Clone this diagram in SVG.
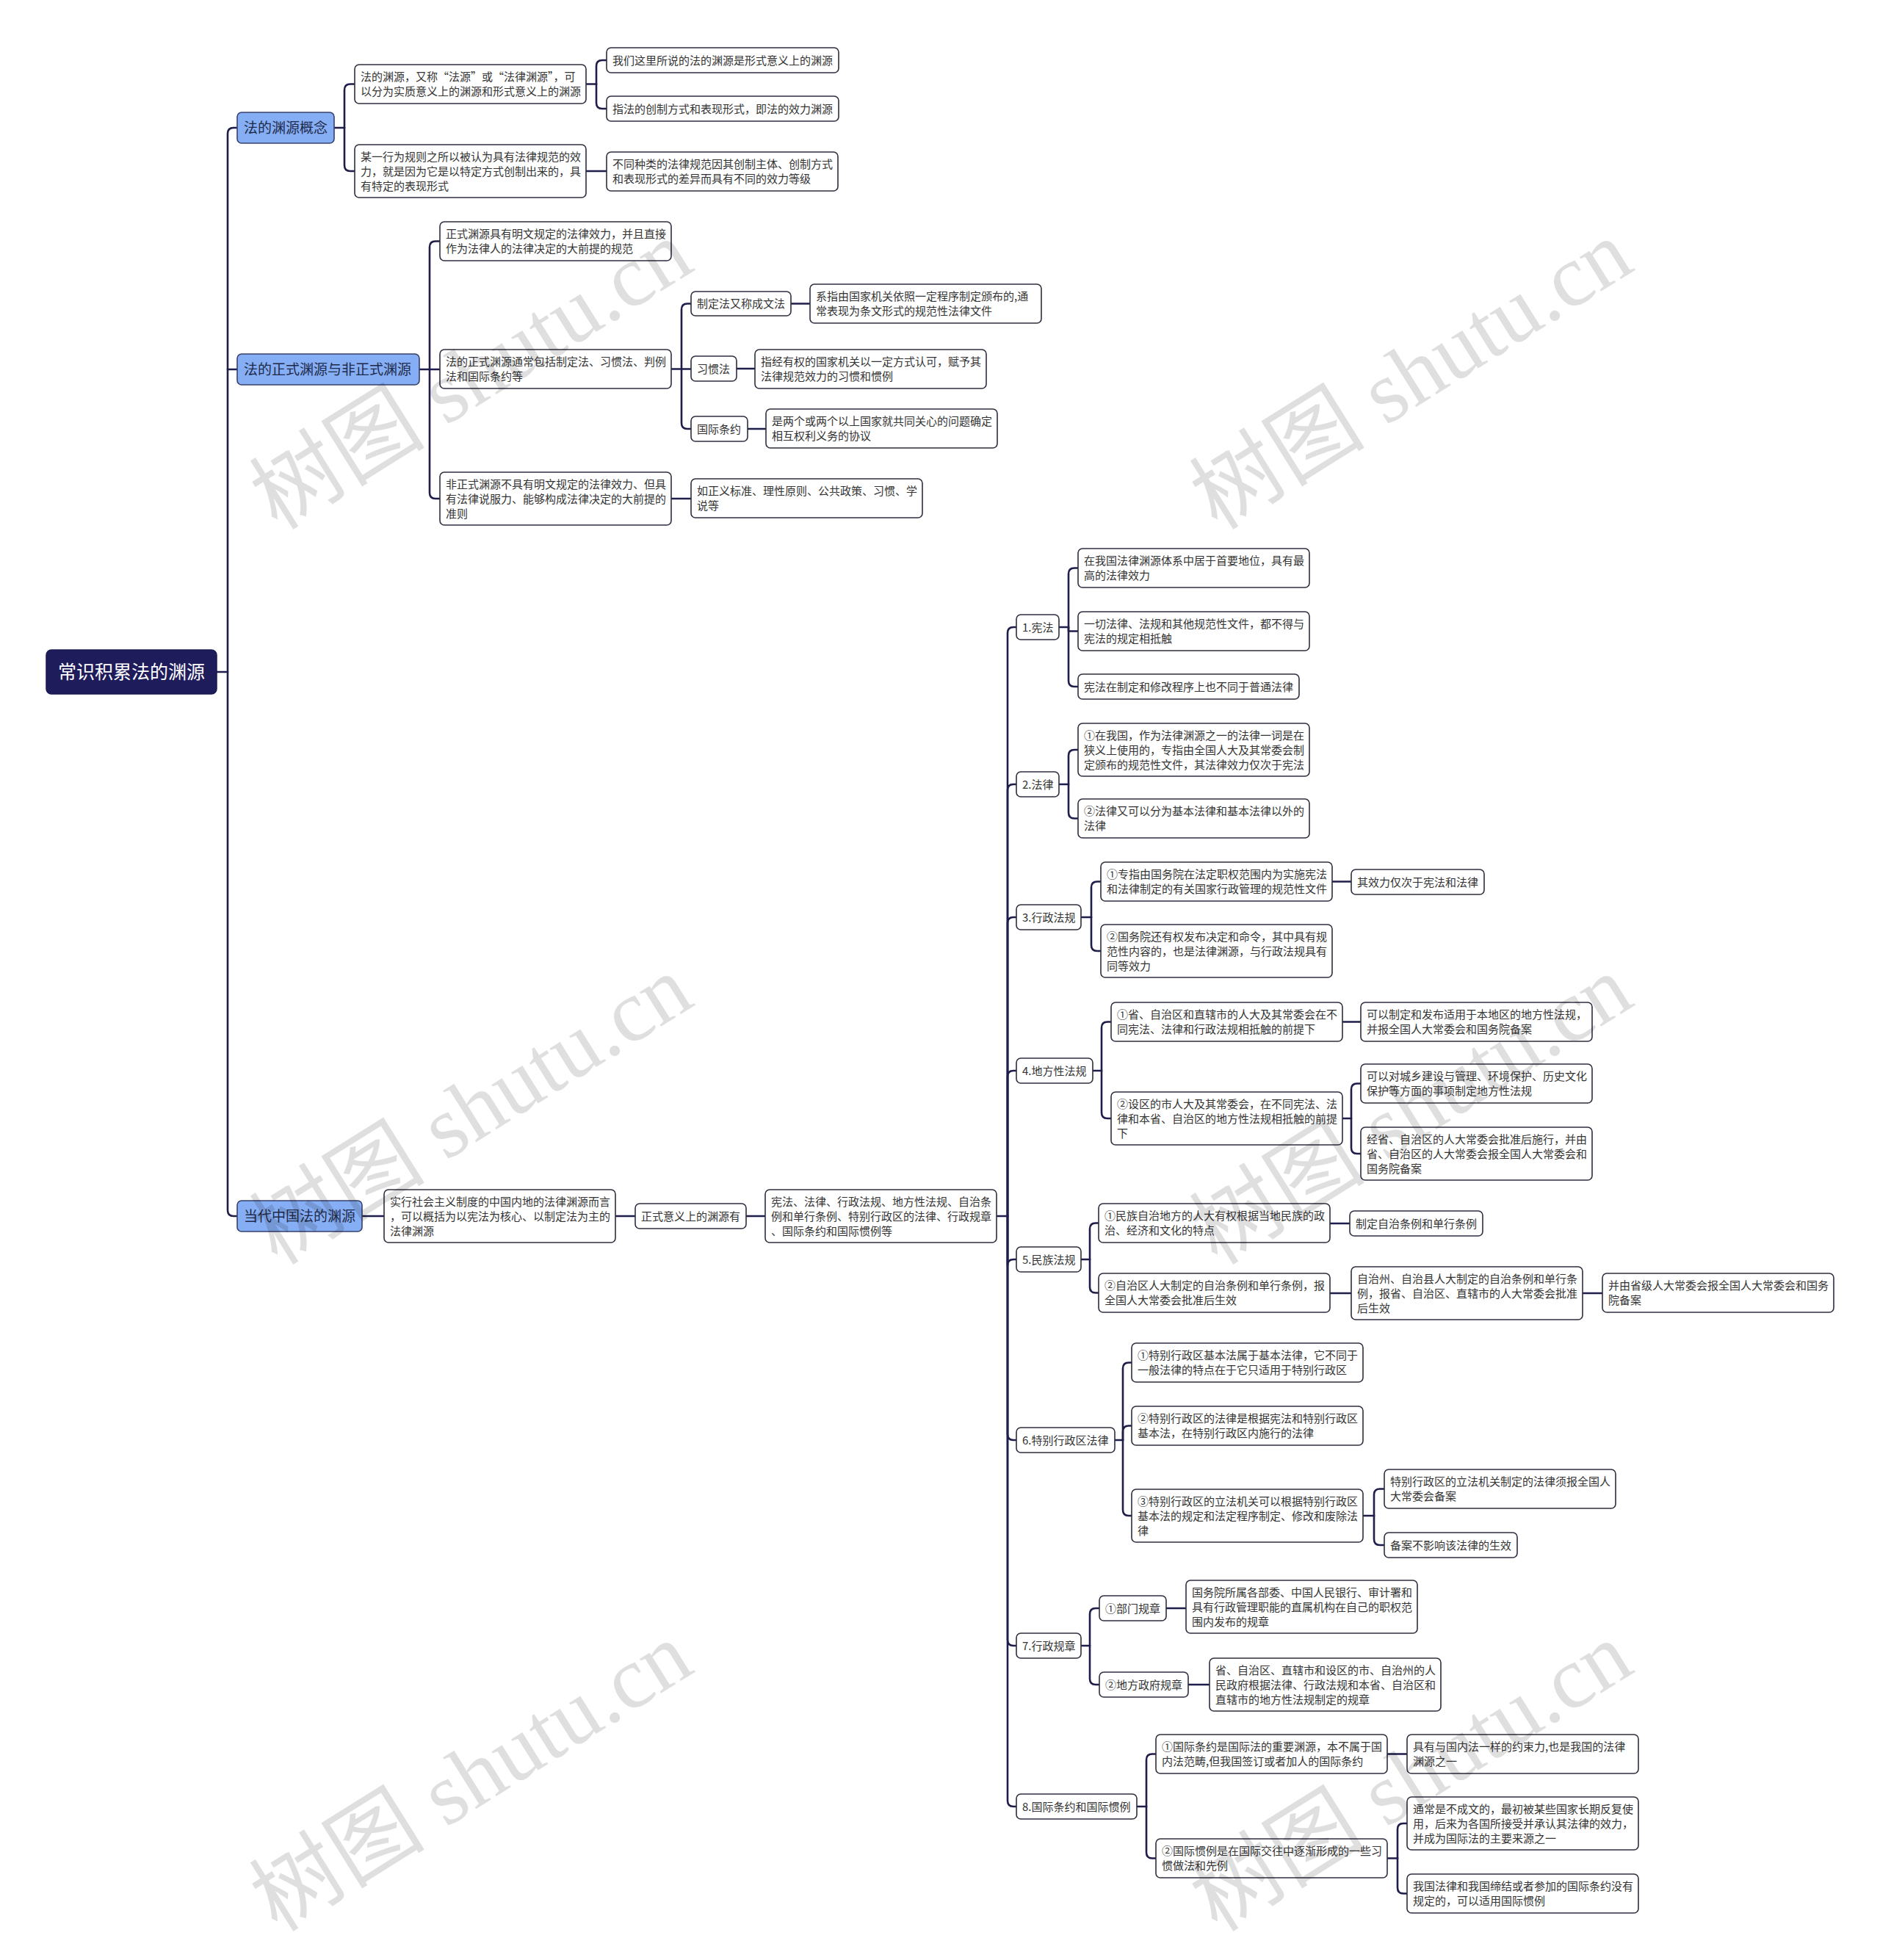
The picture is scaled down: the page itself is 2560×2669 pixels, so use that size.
<svg xmlns="http://www.w3.org/2000/svg" width="2560" height="2669" viewBox="0 0 2560 2669">
<style>
.nb{fill:#fff;stroke:#2f2f3f;stroke-width:1.6}
.l1{fill:#86aef4;stroke:#37406b;stroke-width:1.6}
.rt{fill:#1f1c5c;stroke:#1a1850;stroke-width:1.5}
text{font-family:"Noto Sans CJK SC","Noto Sans",sans-serif;font-size:15px;fill:#333}
.t1{font-size:19px;fill:#1e2a4a}
.t0{font-size:25px;fill:#fff}
.c path{fill:none;stroke:#1f1e4b;stroke-width:2.6;stroke-linecap:round;stroke-linejoin:round}
.wm{font-family:"Liberation Serif","Noto Sans CJK SC",serif;font-size:120px;fill:#000;opacity:0.12}
</style>
<rect width="2560" height="2669" fill="#fff"/>
<g class="c" id="connectors">
<path d="M295 915H310"/>
<path d="M323 174H318Q310 174 310 182V1648Q310 1656 318 1656H323"/>
<path d="M310 503H323"/>
<path d="M455 174H469"/>
<path d="M469 174V122.5Q469 114.5 477 114.5H483"/>
<path d="M469 174V225Q469 233 477 233H483"/>
<path d="M798 114.5H812"/>
<path d="M812 114.5V90Q812 82 820 82H826"/>
<path d="M812 114.5V140Q812 148 820 148H826"/>
<path d="M798 233H826"/>
<path d="M571 503H585"/>
<path d="M585 503V336.5Q585 328.5 593 328.5H599"/>
<path d="M585 503H599"/>
<path d="M585 503V671Q585 679 593 679H599"/>
<path d="M914 502.5H941"/>
<path d="M928 502.5V421.5Q928 413.5 936 413.5H941"/>
<path d="M928 502.5V576Q928 584 936 584H941"/>
<path d="M1077 413.5H1103"/>
<path d="M1003 502H1028"/>
<path d="M1018 584H1043"/>
<path d="M914 679H941"/>
<path d="M493 1656H523"/>
<path d="M838 1656H865"/>
<path d="M1016 1656H1042"/>
<path d="M1357 1656H1372"/>
<path d="M1372 1656V862Q1372 854 1380 854H1384"/>
<path d="M1372 1656V1076Q1372 1068 1380 1068H1384"/>
<path d="M1372 1656V1257Q1372 1249 1380 1249H1384"/>
<path d="M1372 1656V1466Q1372 1458 1380 1458H1384"/>
<path d="M1372 1656V1723Q1372 1715 1380 1715H1384"/>
<path d="M1372 1656V1953Q1372 1961 1380 1961H1384"/>
<path d="M1372 1656V2233Q1372 2241 1380 2241H1384"/>
<path d="M1372 1656V2452Q1372 2460 1380 2460H1384"/>
<path d="M1442 854H1455"/>
<path d="M1455 854V781.5Q1455 773.5 1463 773.5H1468"/>
<path d="M1455 854V859.5H1468"/>
<path d="M1455 854V927Q1455 935 1463 935H1468"/>
<path d="M1442 1068H1455"/>
<path d="M1455 1068V1029Q1455 1021 1463 1021H1468"/>
<path d="M1455 1068V1106.5Q1455 1114.5 1463 1114.5H1468"/>
<path d="M1472 1249H1486"/>
<path d="M1486 1249V1208.5Q1486 1200.5 1494 1200.5H1499"/>
<path d="M1486 1249V1287Q1486 1295 1494 1295H1499"/>
<path d="M1814 1200.5H1840"/>
<path d="M1488 1458H1500"/>
<path d="M1500 1458V1399.5Q1500 1391.5 1508 1391.5H1513"/>
<path d="M1500 1458V1515Q1500 1523 1508 1523H1513"/>
<path d="M1828 1391.5H1853"/>
<path d="M1828 1523H1840"/>
<path d="M1840 1523V1483.5Q1840 1475.5 1848 1475.5H1853"/>
<path d="M1840 1523V1563Q1840 1571 1848 1571H1853"/>
<path d="M1472 1715H1484"/>
<path d="M1484 1715V1673.5Q1484 1665.5 1492 1665.5H1496"/>
<path d="M1484 1715V1752.5Q1484 1760.5 1492 1760.5H1496"/>
<path d="M1811 1666H1838"/>
<path d="M1811 1761H1840"/>
<path d="M2155 1761H2182"/>
<path d="M1518 1961H1529"/>
<path d="M1529 1961V1863.5Q1529 1855.5 1537 1855.5H1541"/>
<path d="M1529 1961V1949.5Q1529 1941.5 1537 1941.5H1541"/>
<path d="M1529 1961V2056Q1529 2064 1537 2064H1541"/>
<path d="M1856 2064H1871"/>
<path d="M1871 2064V2035.5Q1871 2027.5 1879 2027.5H1885"/>
<path d="M1871 2064V2096Q1871 2104 1879 2104H1885"/>
<path d="M1472 2241H1484"/>
<path d="M1484 2241V2198Q1484 2190 1492 2190H1497"/>
<path d="M1484 2241V2286Q1484 2294 1492 2294H1497"/>
<path d="M1588 2190H1615"/>
<path d="M1618 2294H1647"/>
<path d="M1548 2460H1561"/>
<path d="M1561 2460V2396.5Q1561 2388.5 1569 2388.5H1574"/>
<path d="M1561 2460V2522.5Q1561 2530.5 1569 2530.5H1574"/>
<path d="M1889 2388.5H1916"/>
<path d="M1889 2530.5H1903"/>
<path d="M1903 2530.5V2491Q1903 2483 1911 2483H1916"/>
<path d="M1903 2530.5V2570.5Q1903 2578.5 1911 2578.5H1916"/>
</g>
<g id="root"><rect class="rt" x="63" y="885" width="232" height="60" rx="7"/><text class="t0" x="179" y="924" text-anchor="middle">常识积累法的渊源</text></g>
<g id="n-gainian"><rect class="l1" x="323" y="153" width="132" height="42" rx="6"/><text class="t1" x="332" y="181">法的渊源概念</text></g>
<g id="n-zhengshi"><rect class="l1" x="323" y="482" width="248" height="42" rx="6"/><text class="t1" x="332" y="510">法的正式渊源与非正式渊源</text></g>
<g id="n-dangdai"><rect class="l1" x="323" y="1635" width="170" height="42" rx="6"/><text class="t1" x="332" y="1663">当代中国法的渊源</text></g>
<g id="a1"><rect class="nb" x="483" y="88" width="315" height="53" rx="6"/><text><tspan x="491" y="110">法的渊源，又称“法源”或“法律渊源”，可</tspan><tspan x="491" y="130">以分为实质意义上的渊源和形式意义上的渊源</tspan></text></g>
<g id="a1a"><rect class="nb" x="826" y="65" width="316" height="34" rx="6"/><text x="834" y="87.5">我们这里所说的法的渊源是形式意义上的渊源</text></g>
<g id="a1b"><rect class="nb" x="826" y="131" width="316" height="34" rx="6"/><text x="834" y="153.5">指法的创制方式和表现形式，即法的效力渊源</text></g>
<g id="a2"><rect class="nb" x="483" y="197" width="315" height="72" rx="6"/><text><tspan x="491" y="218.5">某一行为规则之所以被认为具有法律规范的效</tspan><tspan x="491" y="238.5">力，就是因为它是以特定方式创制出来的，具</tspan><tspan x="491" y="258.5">有特定的表现形式</tspan></text></g>
<g id="a2a"><rect class="nb" x="826" y="207" width="315" height="53" rx="6"/><text><tspan x="834" y="229">不同种类的法律规范因其创制主体、创制方式</tspan><tspan x="834" y="249">和表现形式的差异而具有不同的效力等级</tspan></text></g>
<g id="b1"><rect class="nb" x="599" y="302" width="315" height="53" rx="6"/><text><tspan x="607" y="324">正式渊源具有明文规定的法律效力，并且直接</tspan><tspan x="607" y="344">作为法律人的法律决定的大前提的规范</tspan></text></g>
<g id="b2"><rect class="nb" x="599" y="476" width="315" height="53" rx="6"/><text><tspan x="607" y="498">法的正式渊源通常包括制定法、习惯法、判例</tspan><tspan x="607" y="518">法和国际条约等</tspan></text></g>
<g id="b2a"><rect class="nb" x="941" y="397" width="136" height="33" rx="6"/><text x="949" y="419">制定法又称成文法</text></g>
<g id="b2a1"><rect class="nb" x="1103" y="387" width="315" height="53" rx="6"/><text><tspan x="1111" y="409">系指由国家机关依照一定程序制定颁布的,通</tspan><tspan x="1111" y="429">常表现为条文形式的规范性法律文件</tspan></text></g>
<g id="b2b"><rect class="nb" x="941" y="485" width="62" height="34" rx="6"/><text x="949" y="507.5">习惯法</text></g>
<g id="b2b1"><rect class="nb" x="1028" y="476" width="315" height="53" rx="6"/><text><tspan x="1036" y="498">指经有权的国家机关以一定方式认可，赋予其</tspan><tspan x="1036" y="518">法律规范效力的习惯和惯例</tspan></text></g>
<g id="b2c"><rect class="nb" x="941" y="567" width="77" height="34" rx="6"/><text x="949" y="589.5">国际条约</text></g>
<g id="b2c1"><rect class="nb" x="1043" y="557" width="315" height="53" rx="6"/><text><tspan x="1051" y="579">是两个或两个以上国家就共同关心的问题确定</tspan><tspan x="1051" y="599">相互权利义务的协议</tspan></text></g>
<g id="b3"><rect class="nb" x="599" y="643" width="315" height="72" rx="6"/><text><tspan x="607" y="664.5">非正式渊源不具有明文规定的法律效力、但具</tspan><tspan x="607" y="684.5">有法律说服力、能够构成法律决定的大前提的</tspan><tspan x="607" y="704.5">准则</tspan></text></g>
<g id="b3a"><rect class="nb" x="941" y="652" width="315" height="53" rx="6"/><text><tspan x="949" y="674">如正义标准、理性原则、公共政策、习惯、学</tspan><tspan x="949" y="694">说等</tspan></text></g>
<g id="c1"><rect class="nb" x="523" y="1620" width="315" height="72" rx="6"/><text><tspan x="531" y="1641.5">实行社会主义制度的中国内地的法律渊源而言</tspan><tspan x="531" y="1661.5">，可以概括为以宪法为核心、以制定法为主的</tspan><tspan x="531" y="1681.5">法律渊源</tspan></text></g>
<g id="c2"><rect class="nb" x="865" y="1639" width="151" height="34" rx="6"/><text x="873" y="1661.5">正式意义上的渊源有</text></g>
<g id="c3"><rect class="nb" x="1042" y="1620" width="315" height="72" rx="6"/><text><tspan x="1050" y="1641.5">宪法、法律、行政法规、地方性法规、自治条</tspan><tspan x="1050" y="1661.5">例和单行条例、特别行政区的法律、行政规章</tspan><tspan x="1050" y="1681.5">、国际条约和国际惯例等</tspan></text></g>
<g id="d1"><rect class="nb" x="1384" y="837" width="58" height="34" rx="6"/><text x="1392" y="859.5">1.宪法</text></g>
<g id="d1a"><rect class="nb" x="1468" y="747" width="315" height="53" rx="6"/><text><tspan x="1476" y="769">在我国法律渊源体系中居于首要地位，具有最</tspan><tspan x="1476" y="789">高的法律效力</tspan></text></g>
<g id="d1b"><rect class="nb" x="1468" y="833" width="315" height="53" rx="6"/><text><tspan x="1476" y="855">一切法律、法规和其他规范性文件，都不得与</tspan><tspan x="1476" y="875">宪法的规定相抵触</tspan></text></g>
<g id="d1c"><rect class="nb" x="1468" y="918" width="301" height="34" rx="6"/><text x="1476" y="940.5">宪法在制定和修改程序上也不同于普通法律</text></g>
<g id="d2"><rect class="nb" x="1384" y="1051" width="58" height="34" rx="6"/><text x="1392" y="1073.5">2.法律</text></g>
<g id="d2a"><rect class="nb" x="1468" y="985" width="315" height="72" rx="6"/><text><tspan x="1476" y="1006.5">①在我国，作为法律渊源之一的法律一词是在</tspan><tspan x="1476" y="1026.5">狭义上使用的，专指由全国人大及其常委会制</tspan><tspan x="1476" y="1046.5">定颁布的规范性文件，其法律效力仅次于宪法</tspan></text></g>
<g id="d2b"><rect class="nb" x="1468" y="1088" width="315" height="53" rx="6"/><text><tspan x="1476" y="1110">②法律又可以分为基本法律和基本法律以外的</tspan><tspan x="1476" y="1130">法律</tspan></text></g>
<g id="d3"><rect class="nb" x="1384" y="1232" width="88" height="34" rx="6"/><text x="1392" y="1254.5">3.行政法规</text></g>
<g id="d3a"><rect class="nb" x="1499" y="1174" width="315" height="53" rx="6"/><text><tspan x="1507" y="1196">①专指由国务院在法定职权范围内为实施宪法</tspan><tspan x="1507" y="1216">和法律制定的有关国家行政管理的规范性文件</tspan></text></g>
<g id="d3a1"><rect class="nb" x="1840" y="1184" width="181" height="34" rx="6"/><text x="1848" y="1206.5">其效力仅次于宪法和法律</text></g>
<g id="d3b"><rect class="nb" x="1499" y="1259" width="315" height="72" rx="6"/><text><tspan x="1507" y="1280.5">②国务院还有权发布决定和命令，其中具有规</tspan><tspan x="1507" y="1300.5">范性内容的，也是法律渊源，与行政法规具有</tspan><tspan x="1507" y="1320.5">同等效力</tspan></text></g>
<g id="d4"><rect class="nb" x="1384" y="1441" width="104" height="34" rx="6"/><text x="1392" y="1463.5">4.地方性法规</text></g>
<g id="d4a"><rect class="nb" x="1513" y="1365" width="315" height="53" rx="6"/><text><tspan x="1521" y="1387">①省、自治区和直辖市的人大及其常委会在不</tspan><tspan x="1521" y="1407">同宪法、法律和行政法规相抵触的前提下</tspan></text></g>
<g id="d4a1"><rect class="nb" x="1853" y="1365" width="315" height="53" rx="6"/><text><tspan x="1861" y="1387">可以制定和发布适用于本地区的地方性法规，</tspan><tspan x="1861" y="1407">并报全国人大常委会和国务院备案</tspan></text></g>
<g id="d4b"><rect class="nb" x="1513" y="1487" width="315" height="72" rx="6"/><text><tspan x="1521" y="1508.5">②设区的市人大及其常委会，在不同宪法、法</tspan><tspan x="1521" y="1528.5">律和本省、自治区的地方性法规相抵触的前提</tspan><tspan x="1521" y="1548.5">下</tspan></text></g>
<g id="d4b1"><rect class="nb" x="1853" y="1449" width="315" height="53" rx="6"/><text><tspan x="1861" y="1471">可以对城乡建设与管理、环境保护、历史文化</tspan><tspan x="1861" y="1491">保护等方面的事项制定地方性法规</tspan></text></g>
<g id="d4b2"><rect class="nb" x="1853" y="1535" width="315" height="72" rx="6"/><text><tspan x="1861" y="1556.5">经省、自治区的人大常委会批准后施行，并由</tspan><tspan x="1861" y="1576.5">省、自治区的人大常委会报全国人大常委会和</tspan><tspan x="1861" y="1596.5">国务院备案</tspan></text></g>
<g id="d5"><rect class="nb" x="1384" y="1698" width="88" height="34" rx="6"/><text x="1392" y="1720.5">5.民族法规</text></g>
<g id="d5a"><rect class="nb" x="1496" y="1639" width="315" height="53" rx="6"/><text><tspan x="1504" y="1661">①民族自治地方的人大有权根据当地民族的政</tspan><tspan x="1504" y="1681">治、经济和文化的特点</tspan></text></g>
<g id="d5a1"><rect class="nb" x="1838" y="1649" width="181" height="34" rx="6"/><text x="1846" y="1671.5">制定自治条例和单行条例</text></g>
<g id="d5b"><rect class="nb" x="1496" y="1734" width="315" height="53" rx="6"/><text><tspan x="1504" y="1756">②自治区人大制定的自治条例和单行条例，报</tspan><tspan x="1504" y="1776">全国人大常委会批准后生效</tspan></text></g>
<g id="d5b1"><rect class="nb" x="1840" y="1725" width="315" height="72" rx="6"/><text><tspan x="1848" y="1746.5">自治州、自治县人大制定的自治条例和单行条</tspan><tspan x="1848" y="1766.5">例，报省、自治区、直辖市的人大常委会批准</tspan><tspan x="1848" y="1786.5">后生效</tspan></text></g>
<g id="d5b1a"><rect class="nb" x="2182" y="1734" width="315" height="53" rx="6"/><text><tspan x="2190" y="1756">并由省级人大常委会报全国人大常委会和国务</tspan><tspan x="2190" y="1776">院备案</tspan></text></g>
<g id="d6"><rect class="nb" x="1384" y="1944" width="134" height="34" rx="6"/><text x="1392" y="1966.5">6.特别行政区法律</text></g>
<g id="d6a"><rect class="nb" x="1541" y="1829" width="315" height="53" rx="6"/><text><tspan x="1549" y="1851">①特别行政区基本法属于基本法律，它不同于</tspan><tspan x="1549" y="1871">一般法律的特点在于它只适用于特别行政区</tspan></text></g>
<g id="d6b"><rect class="nb" x="1541" y="1915" width="315" height="53" rx="6"/><text><tspan x="1549" y="1937">②特别行政区的法律是根据宪法和特别行政区</tspan><tspan x="1549" y="1957">基本法，在特别行政区内施行的法律</tspan></text></g>
<g id="d6c"><rect class="nb" x="1541" y="2028" width="315" height="72" rx="6"/><text><tspan x="1549" y="2049.5">③特别行政区的立法机关可以根据特别行政区</tspan><tspan x="1549" y="2069.5">基本法的规定和法定程序制定、修改和废除法</tspan><tspan x="1549" y="2089.5">律</tspan></text></g>
<g id="d6c1"><rect class="nb" x="1885" y="2001" width="315" height="53" rx="6"/><text><tspan x="1893" y="2023">特别行政区的立法机关制定的法律须报全国人</tspan><tspan x="1893" y="2043">大常委会备案</tspan></text></g>
<g id="d6c2"><rect class="nb" x="1885" y="2087" width="181" height="34" rx="6"/><text x="1893" y="2109.5">备案不影响该法律的生效</text></g>
<g id="d7"><rect class="nb" x="1384" y="2224" width="88" height="34" rx="6"/><text x="1392" y="2246.5">7.行政规章</text></g>
<g id="d7a"><rect class="nb" x="1497" y="2173" width="91" height="34" rx="6"/><text x="1505" y="2195.5">①部门规章</text></g>
<g id="d7a1"><rect class="nb" x="1615" y="2152" width="315" height="72" rx="6"/><text><tspan x="1623" y="2173.5">国务院所属各部委、中国人民银行、审计署和</tspan><tspan x="1623" y="2193.5">具有行政管理职能的直属机构在自己的职权范</tspan><tspan x="1623" y="2213.5">围内发布的规章</tspan></text></g>
<g id="d7b"><rect class="nb" x="1497" y="2277" width="121" height="34" rx="6"/><text x="1505" y="2299.5">②地方政府规章</text></g>
<g id="d7b1"><rect class="nb" x="1647" y="2258" width="315" height="72" rx="6"/><text><tspan x="1655" y="2279.5">省、自治区、直辖市和设区的市、自治州的人</tspan><tspan x="1655" y="2299.5">民政府根据法律、行政法规和本省、自治区和</tspan><tspan x="1655" y="2319.5">直辖市的地方性法规制定的规章</tspan></text></g>
<g id="d8"><rect class="nb" x="1384" y="2443" width="164" height="34" rx="6"/><text x="1392" y="2465.5">8.国际条约和国际惯例</text></g>
<g id="d8a"><rect class="nb" x="1574" y="2362" width="315" height="53" rx="6"/><text><tspan x="1582" y="2384">①国际条约是国际法的重要渊源，本不属于国</tspan><tspan x="1582" y="2404">内法范畴,但我国签订或者加人的国际条约</tspan></text></g>
<g id="d8a1"><rect class="nb" x="1916" y="2362" width="315" height="53" rx="6"/><text><tspan x="1924" y="2384">具有与国内法一样的约束力,也是我国的法律</tspan><tspan x="1924" y="2404">渊源之一</tspan></text></g>
<g id="d8b"><rect class="nb" x="1574" y="2504" width="315" height="53" rx="6"/><text><tspan x="1582" y="2526">②国际惯例是在国际交往中逐渐形成的一些习</tspan><tspan x="1582" y="2546">惯做法和先例</tspan></text></g>
<g id="d8b1"><rect class="nb" x="1916" y="2447" width="315" height="72" rx="6"/><text><tspan x="1924" y="2468.5">通常是不成文的，最初被某些国家长期反复使</tspan><tspan x="1924" y="2488.5">用，后来为各国所接受并承认其法律的效力，</tspan><tspan x="1924" y="2508.5">并成为国际法的主要来源之一</tspan></text></g>
<g id="d8b2"><rect class="nb" x="1916" y="2552" width="315" height="53" rx="6"/><text><tspan x="1924" y="2574">我国法律和我国缔结或者参加的国际条约没有</tspan><tspan x="1924" y="2594">规定的，可以适用国际惯例</tspan></text></g>
<g id="watermarks">
<text class="wm" transform="translate(642 511) rotate(-32)" x="0" y="40" text-anchor="middle">树图 shutu.cn</text>
<text class="wm" transform="translate(1922 511) rotate(-32)" x="0" y="40" text-anchor="middle">树图 shutu.cn</text>
<text class="wm" transform="translate(642 1512) rotate(-32)" x="0" y="40" text-anchor="middle">树图 shutu.cn</text>
<text class="wm" transform="translate(1922 1512) rotate(-32)" x="0" y="40" text-anchor="middle">树图 shutu.cn</text>
<text class="wm" transform="translate(642 2420) rotate(-32)" x="0" y="40" text-anchor="middle">树图 shutu.cn</text>
<text class="wm" transform="translate(1922 2420) rotate(-32)" x="0" y="40" text-anchor="middle">树图 shutu.cn</text>
</g>
</svg>
